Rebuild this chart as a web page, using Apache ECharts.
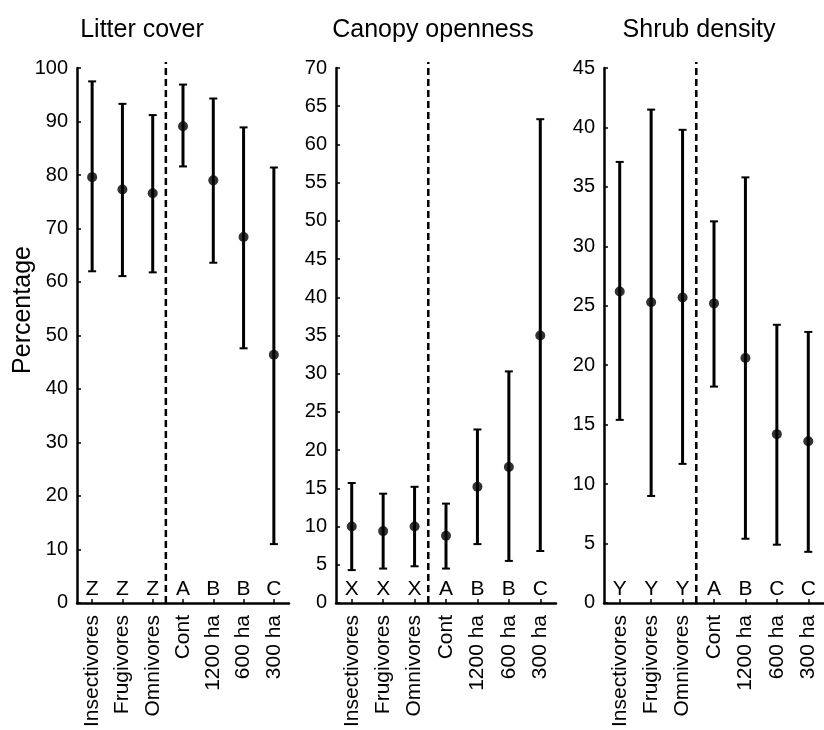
<!DOCTYPE html>
<html>
<head>
<meta charset="utf-8">
<script src="https://cdn.jsdelivr.net/npm/echarts@6/dist/echarts.min.js"></script>
<style>
  html, body { margin: 0; padding: 0; background: #fff; }
  #chart { width: 824px; height: 730px; }
</style>
</head>
<body>
<div id="chart"></div>
<script>
// 类别
const categories = ['Insectivores', 'Frugivores', 'Omnivores', 'Cont', '1200 ha', '600 ha', '300 ha'];

// Litter cover
const litterMean = [79.6, 77.3, 76.6, 89.1, 79.0, 68.4, 46.4];
const litterLow = [62.0, 61.1, 61.8, 81.6, 63.6, 47.6, 11.0];
const litterHigh = [97.5, 93.3, 91.2, 96.9, 94.3, 88.9, 81.4];
const litterLetters = ['Z', 'Z', 'Z', 'A', 'B', 'B', 'C'];

// Canopy openness
const canopyMean = [10.0, 9.4, 10.0, 8.8, 15.2, 17.8, 35.0];
const canopyLow = [4.3, 4.5, 4.8, 4.5, 7.7, 5.5, 6.8];
const canopyHigh = [15.7, 14.3, 15.2, 13.0, 22.7, 30.3, 63.3];
const canopyLetters = ['X', 'X', 'X', 'A', 'B', 'B', 'C'];

// Shrub density
const shrubMean = [26.2, 25.3, 25.7, 25.2, 20.6, 14.2, 13.6];
const shrubLow = [15.4, 9.0, 11.7, 18.2, 5.4, 4.9, 4.3];
const shrubHigh = [37.1, 41.5, 39.8, 32.1, 35.8, 23.4, 22.8];
const shrubLetters = ['Y', 'Y', 'Y', 'A', 'B', 'C', 'C'];

const panels = [
    { title: 'Litter cover', titleX: 137, max: 100, interval: 10, left: 77, width: 212, mean: litterMean, low: litterLow, high: litterHigh, letters: litterLetters },
    { title: 'Canopy openness', titleX: 428, max: 70, interval: 5, left: 336, width: 220, mean: canopyMean, low: canopyLow, high: canopyHigh, letters: canopyLetters },
    { title: 'Shrub density', titleX: 694, max: 45, interval: 5, left: 604, width: 220, mean: shrubMean, low: shrubLow, high: shrubHigh, letters: shrubLetters }
];

const FONT = 'Liberation Sans, Arial, sans-serif';
const chart = echarts.init(document.getElementById('chart'));

const grids = [], xAxes = [], yAxes = [], series = [], titles = [];

panels.forEach((p, k) => {
    grids.push({ left: p.left, width: p.width, top: 68, height: 538 });
    titles.push({
        text: p.title,
        left: p.titleX,
        top: 13,
        textAlign: 'center',
        textStyle: { fontFamily: FONT, fontSize: 25, fontWeight: 'normal', color: '#000' }
    });
    xAxes.push({
        type: 'category',
        gridIndex: k,
        data: categories,
        axisLine: { lineStyle: { color: '#000', width: 2.5 } },
        axisTick: { show: true, inside: true, alignWithLabel: true, length: 4, lineStyle: { color: '#000', width: 1.5 } },
        axisLabel: { rotate: 90, margin: 12, fontFamily: FONT, fontSize: 21, color: '#000', interval: 0 },
        splitLine: { show: false }
    });
    yAxes.push({
        type: 'value',
        gridIndex: k,
        min: 0,
        max: p.max,
        interval: p.interval,
        axisLine: { show: true, lineStyle: { color: '#000', width: 2.5 } },
        axisTick: { show: true, inside: true, length: 4, lineStyle: { color: '#000', width: 1.5 } },
        axisLabel: { margin: 9, fontFamily: FONT, fontSize: 20, color: '#000' },
        splitLine: { show: false }
    });

    // 分隔虚线（Omnivores 与 Cont 之间）
    series.push({
        type: 'custom',
        xAxisIndex: k,
        yAxisIndex: k,
        data: [[2, 0, p.max]],
        renderItem: (params, api) => {
            const band = api.size([1, 0])[0];
            const lo = api.coord([api.value(0), api.value(1)]);
            const hi = api.coord([api.value(0), api.value(2)]);
            const x = lo[0] + band / 2 - 2;
            return {
                type: 'line',
                shape: { x1: x, y1: lo[1], x2: x, y2: hi[1] - 6 },
                style: { stroke: '#000', lineWidth: 2.5, lineDash: [7, 4] }
            };
        },
        silent: true,
        z: 2
    });

    // 误差线
    series.push({
        type: 'custom',
        xAxisIndex: k,
        yAxisIndex: k,
        data: categories.map((c, i) => [i, p.low[i], p.high[i]]),
        renderItem: (params, api) => {
            const lo = api.coord([api.value(0), api.value(1)]);
            const hi = api.coord([api.value(0), api.value(2)]);
            const cap = 4;
            return {
                type: 'group',
                children: [
                    { type: 'line', shape: { x1: lo[0], y1: lo[1], x2: hi[0], y2: hi[1] }, style: { stroke: '#000', lineWidth: 3 } },
                    { type: 'line', shape: { x1: hi[0] - cap, y1: hi[1], x2: hi[0] + cap, y2: hi[1] }, style: { stroke: '#000', lineWidth: 2 } },
                    { type: 'line', shape: { x1: lo[0] - cap, y1: lo[1], x2: lo[0] + cap, y2: lo[1] }, style: { stroke: '#000', lineWidth: 2 } }
                ]
            };
        },
        z: 3
    });

    // 均值点
    series.push({
        type: 'scatter',
        xAxisIndex: k,
        yAxisIndex: k,
        data: p.mean,
        symbol: 'circle',
        symbolSize: 10,
        itemStyle: { color: '#000' },
        z: 4
    });

    // 显著性字母
    series.push({
        type: 'custom',
        xAxisIndex: k,
        yAxisIndex: k,
        data: categories.map((c, i) => [i, 0]),
        renderItem: (params, api) => {
            const pt = api.coord([api.value(0), api.value(1)]);
            return {
                type: 'text',
                x: pt[0],
                y: pt[1] - 3,
                style: {
                    text: p.letters[params.dataIndex],
                    fill: '#000',
                    font: '21px ' + FONT,
                    textAlign: 'center',
                    textVerticalAlign: 'bottom'
                }
            };
        },
        silent: true,
        z: 5
    });
});

chart.setOption({
    backgroundColor: '#fff',
    animation: false,
    title: titles,
    graphic: [{
        type: 'text',
        x: 23,
        y: 310,
        rotation: Math.PI / 2,
        style: {
            text: 'Percentage',
            fill: '#000',
            font: '25px ' + FONT,
            textAlign: 'center',
            textVerticalAlign: 'middle'
        }
    }],
    grid: grids,
    xAxis: xAxes,
    yAxis: yAxes,
    series: series
});
</script>
</body>
</html>
